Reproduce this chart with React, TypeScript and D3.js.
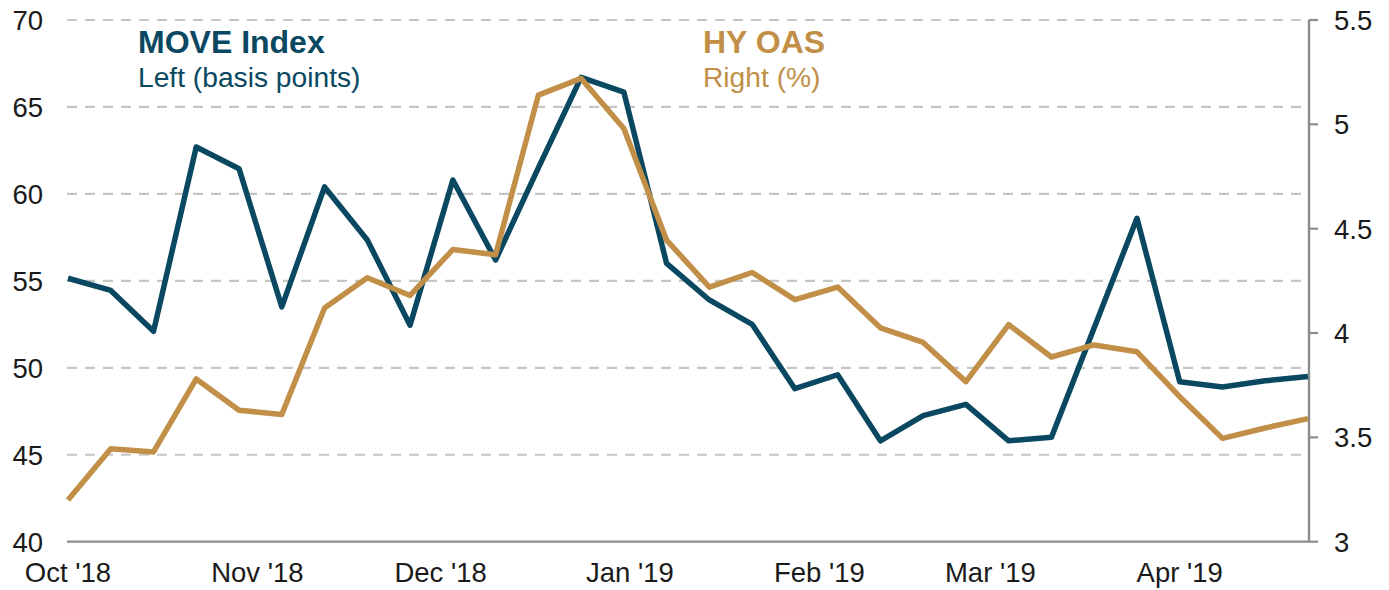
import React from "react";
import * as d3 from "d3";

const dates = [
  "2018-10-01", "2018-10-08", "2018-10-15", "2018-10-22", "2018-10-29",
  "2018-11-05", "2018-11-12", "2018-11-19", "2018-11-26", "2018-12-03",
  "2018-12-10", "2018-12-17", "2018-12-24", "2018-12-31", "2019-01-07",
  "2019-01-14", "2019-01-21", "2019-01-28", "2019-02-04", "2019-02-11",
  "2019-02-18", "2019-02-25", "2019-03-04", "2019-03-11", "2019-03-18",
  "2019-03-25", "2019-04-01", "2019-04-08", "2019-04-15", "2019-04-22",
];

const moveIndex = [
  55.15, 54.45, 52.1, 62.7, 61.45, 53.5, 60.4, 57.35, 52.45, 60.8,
  56.2, 61.5, 66.7, 65.85, 56.0, 53.9, 52.5, 48.8, 49.6, 45.8,
  47.25, 47.9, 45.8, 46.0, 52.3, 58.6, 49.2, 48.9, 49.25, 49.5,
];

const hyOas = [
  3.2, 3.445, 3.43, 3.78, 3.63, 3.61, 4.12, 4.265, 4.18, 4.4,
  4.375, 5.14, 5.22, 4.98, 4.445, 4.22, 4.29, 4.16, 4.22, 4.025,
  3.955, 3.767, 4.04, 3.885, 3.943, 3.91, 3.695, 3.495, 3.545, 3.59,
];

const monthTicks = [
  "2018-10-01", "2018-11-01", "2018-12-01", "2019-01-01",
  "2019-02-01", "2019-03-01", "2019-04-01",
];
const monthLabels = ["Oct '18", "Nov '18", "Dec '18", "Jan '19", "Feb '19", "Mar '19", "Apr '19"];
const leftTicks = [40, 45, 50, 55, 60, 65, 70];
const rightTicks = [3, 3.5, 4, 4.5, 5, 5.5];

const NAVY = "#0a4861";
const GOLD = "#c18f47";
const FONT = "'Liberation Sans', Arial, sans-serif";

export default function App() {
  const W = 1389;
  const H = 590;
  const plotLeft = 67;
  const plotRight = 1309;
  const plotTop = 20;
  const plotBottom = 541.7;

  const parse = d3.utcParse("%Y-%m-%d");
  const xDates = dates.map((d) => parse(d) as Date);

  const x = d3
    .scaleUtc()
    .domain([xDates[0], xDates[xDates.length - 1]])
    .range([68, 1308]);
  const yL = d3.scaleLinear().domain([40, 70]).range([plotBottom, plotTop]);
  const yR = d3.scaleLinear().domain([3, 5.5]).range([plotBottom, plotTop]);

  const moveLine = d3
    .line<number>()
    .x((_, i) => x(xDates[i]))
    .y((v) => yL(v));
  const hyLine = d3
    .line<number>()
    .x((_, i) => x(xDates[i]))
    .y((v) => yR(v));

  return (
    <svg
      width={W}
      height={H}
      style={{ position: "absolute", left: 0, top: 0, background: "#fff" }}
      fontFamily={FONT}
    >
      {/* gridlines */}
      {leftTicks
        .filter((t) => t !== 40)
        .map((t) => (
          <line
            key={"g" + t}
            x1={plotLeft}
            x2={plotRight}
            y1={yL(t)}
            y2={yL(t)}
            stroke="#c6c6c6"
            strokeWidth={2.2}
            strokeDasharray="10 8"
          />
        ))}

      {/* left tick labels */}
      {leftTicks.map((t) => (
        <text
          key={"l" + t}
          x={43}
          y={yL(t)}
          dy="0.36em"
          textAnchor="end"
          fontSize={27.5}
          fill="#1a1a1a"
        >
          {t}
        </text>
      ))}

      {/* bottom axis */}
      <line
        x1={plotLeft}
        x2={plotRight}
        y1={plotBottom}
        y2={plotBottom}
        stroke="#8c8c8c"
        strokeWidth={2.2}
      />

      {/* right axis */}
      <line
        x1={plotRight}
        x2={plotRight}
        y1={plotTop}
        y2={plotBottom}
        stroke="#8c8c8c"
        strokeWidth={2.4}
      />
      {rightTicks.map((t) => (
        <g key={"r" + t}>
          <line
            x1={plotRight}
            x2={plotRight + 9}
            y1={yR(t)}
            y2={yR(t)}
            stroke="#8c8c8c"
            strokeWidth={2.2}
          />
          <text
            x={1334}
            y={yR(t)}
            dy="0.36em"
            textAnchor="start"
            fontSize={27.5}
            fill="#1a1a1a"
          >
            {t}
          </text>
        </g>
      ))}

      {/* x labels */}
      {monthTicks.map((m, i) => (
        <text
          key={"x" + m}
          x={x(parse(m) as Date)}
          y={582}
          textAnchor="middle"
          fontSize={27.5}
          fill="#1a1a1a"
        >
          {monthLabels[i]}
        </text>
      ))}

      {/* series */}
      <path
        d={moveLine(moveIndex) || ""}
        fill="none"
        stroke={NAVY}
        strokeWidth={5.5}
        strokeLinejoin="round"
      />
      <path
        d={hyLine(hyOas) || ""}
        fill="none"
        stroke={GOLD}
        strokeWidth={5.5}
        strokeLinejoin="round"
      />

      {/* legend labels */}
      <text x={138} y={53} fontSize={32} fontWeight="bold" fill={NAVY}>
        MOVE Index
      </text>
      <text x={138} y={87} fontSize={28.2} fill={NAVY}>
        Left (basis points)
      </text>
      <text x={703} y={53} fontSize={32} fontWeight="bold" fill={GOLD}>
        HY OAS
      </text>
      <text x={703} y={87} fontSize={28.2} fill={GOLD}>
        Right (%)
      </text>
    </svg>
  );
}
